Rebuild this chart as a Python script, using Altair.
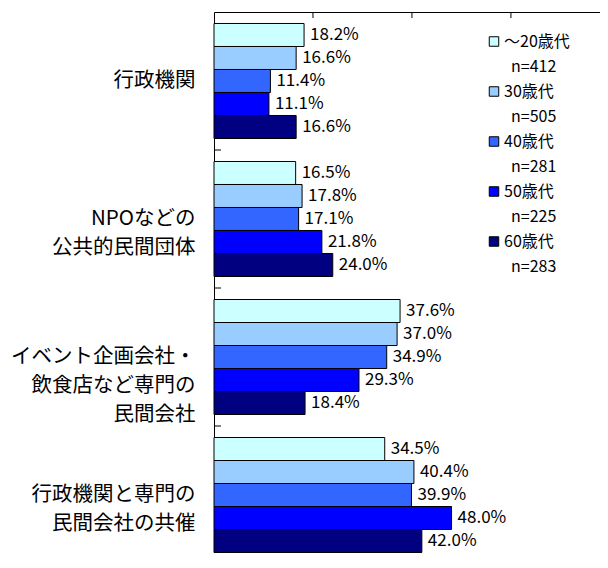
import altair as alt
import pandas as pd

categories = [
    "行政機関",
    "NPOなどの\n公共的民間団体",
    "イベント企画会社・\n飲食店など専門の\n民間会社",
    "行政機関と専門の\n民間会社の共催",
]
age_groups = ["～20歳代", "30歳代", "40歳代", "50歳代", "60歳代"]
sample_sizes = [412, 505, 281, 225, 283]
values_u20 = [18.2, 16.5, 37.6, 34.5]
values_30s = [16.6, 17.8, 37.0, 40.4]
values_40s = [11.4, 17.1, 34.9, 39.9]
values_50s = [11.1, 21.8, 29.3, 48.0]
values_60s = [16.6, 24.0, 18.4, 42.0]
colors = ["#CCFFFF", "#99CCFF", "#3366FF", "#0000FF", "#000080"]
x_ticks = [20, 40, 60]
group_bounds = [1, 2, 3]

series = [values_u20, values_30s, values_40s, values_50s, values_60s]
rows = []
for age, vals in zip(age_groups, series):
    for cat, v in zip(categories, vals):
        rows.append({"category": cat, "age": age, "value": v})
df = pd.DataFrame(rows)

legend_df = pd.DataFrame({
    "age": age_groups,
    "n": ["n=%d" % n for n in sample_sizes],
    "i": list(range(len(age_groups))),
})

W, H = 386, 541
FULL_H = 552
FONT = "Noto Sans CJK JP"

color_scale = alt.Scale(domain=age_groups, range=colors)
x_scale = alt.Scale(domain=[0, 78], nice=False)

bars = alt.Chart(df).mark_bar(stroke="black", strokeWidth=1).encode(
    x=alt.X("value:Q", scale=x_scale,
            axis=alt.Axis(orient="top", labels=False, ticks=False, grid=False,
                          domainColor="black", domainWidth=1, title=None)),
    y=alt.Y("category:N", sort=categories,
            scale=alt.Scale(range=[0, FULL_H], paddingInner=0.1667, paddingOuter=0.0833),
            axis=alt.Axis(title=None, ticks=False,
                          labelExpr="split(datum.label, '\\n')",
                          labelFont=FONT, labelFontSize=20.5, labelLineHeight=29,
                          labelColor="black", labelPadding=19, labelLimit=0,
                          domainColor="black", domainWidth=1)),
    yOffset=alt.YOffset("age:N", sort=age_groups),
    color=alt.Color("age:N", scale=color_scale, legend=None),
)

labels = alt.Chart(df).transform_calculate(
    label="format(datum.value, '.1f') + '%'"
).mark_text(align="left", baseline="middle", dx=6, font=FONT, fontSize=17,
            color="black").encode(
    x=alt.X("value:Q", scale=x_scale, title=None),
    y=alt.Y("category:N", sort=categories),
    yOffset=alt.YOffset("age:N", sort=age_groups),
    text="label:N",
)

top_ticks = alt.Chart(pd.DataFrame({"value": x_ticks})).mark_rule(
    color="black", strokeWidth=1
).encode(
    x=alt.X("value:Q", scale=x_scale, title=None),
    y=alt.value(0),
    y2=alt.value(6),
)

main = alt.layer(bars, labels, top_ticks)

seps = alt.Chart(pd.DataFrame({"b": group_bounds})).mark_rule(
    color="black", strokeWidth=1
).encode(
    y=alt.Y("b:Q", scale=alt.Scale(domain=[0, 4], range=[0, FULL_H], nice=False, zero=False),
            axis=None),
    x=alt.value(0),
    x2=alt.value(7),
)

leg_y = alt.Y("i:Q", scale=alt.Scale(domain=[0, 1], range=[29.5, 79.5], nice=False, zero=False),
              axis=None)

leg_sym = alt.Chart(legend_df).mark_square(
    size=90, stroke="black", strokeWidth=1, opacity=1, filled=True
).encode(
    x=alt.value(280),
    y=leg_y,
    color=alt.Color("age:N", scale=color_scale, legend=None),
)

leg_name = alt.Chart(legend_df).mark_text(
    align="left", baseline="middle", font=FONT, fontSize=16, color="black"
).encode(x=alt.value(290), y=leg_y, text="age:N")

leg_n = alt.Chart(legend_df).mark_text(
    align="left", baseline="middle", font=FONT, fontSize=16, color="black", dy=25
).encode(x=alt.value(297), y=leg_y, text="n:N")

legend = alt.layer(leg_sym, leg_name, leg_n)

chart = alt.layer(main, seps, legend).resolve_scale(y="independent").properties(
    width=W,
    height=H,
    padding={"left": 206, "top": 4, "right": 0, "bottom": 0},
    autosize=alt.AutoSizeParams(type="none"),
).configure_view(stroke=None)

chart.save("out.html", embed_options={"renderer": "svg", "actions": False})
